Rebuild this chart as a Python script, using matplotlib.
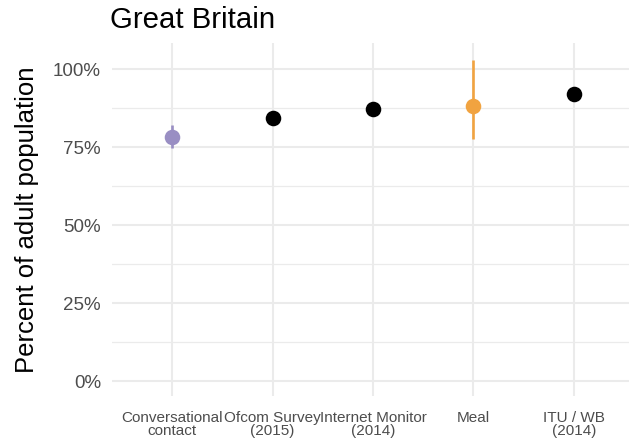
import matplotlib
matplotlib.use("Agg")
import matplotlib.pyplot as plt
from matplotlib.ticker import FixedLocator

categories = ["Conversational\ncontact", "Ofcom Survey\n(2015)", "Internet Monitor\n(2014)", "Meal", "ITU / WB\n(2014)"]
values = [78.2, 84.5, 87.1, 88.1, 92.2]
lower = [74.8, None, None, 77.6, None]
upper = [82.0, None, None, 102.9, None]
colors = ["#998ec3", "#000000", "#000000", "#f1a340", "#000000"]
yticks = [0, 25, 50, 75, 100]
ytick_labels = ["0%", "25%", "50%", "75%", "100%"]
yminor = [12.5, 37.5, 62.5, 87.5]

plt.rcParams['font.family'] = ['Liberation Sans', 'DejaVu Sans']

W, H = 629, 444
fig = plt.figure(figsize=(W / 100, H / 100), dpi=100)
ax = fig.add_axes([112 / W, (H - 396) / H, (629 - 112) / W, (396 - 43) / H])

x = list(range(1, len(categories) + 1))
for xi, v, lo, hi, c in zip(x, values, lower, upper, colors):
    if lo is not None:
        ax.plot([xi, xi], [lo, hi], color=c, lw=1.9, solid_capstyle='butt', zorder=3)
    ax.plot([xi], [v], 'o', color=c, markersize=11.2, markeredgewidth=0, zorder=4)

ax.set_xlim(0.4, 5.55)
ax.set_ylim(-4.7, 108.4)
ax.set_xticks(x)
ax.set_xticklabels(categories, fontsize=11, color="#4D4D4D", linespacing=0.92)
ax.set_yticks(yticks)
ax.set_yticklabels(ytick_labels, fontsize=13.5, color="#4D4D4D")
ax.yaxis.set_minor_locator(FixedLocator(yminor))
ax.tick_params(axis='both', which='both', length=0)
ax.tick_params(axis='x', pad=11)
ax.tick_params(axis='y', pad=8)

ax.grid(True, which='major', color="#EBEBEB", lw=1.5)
ax.grid(True, which='minor', axis='y', color="#EBEBEB", lw=0.9)
ax.set_axisbelow(True)
for s in ax.spines.values():
    s.set_visible(False)

ax.set_ylabel("Percent of adult population", fontsize=18.5, labelpad=10)
fig.text(110 / W, 1 - 20 / H, "Great Britain", fontsize=21.2, ha='left', va='center')

fig.savefig("out.png", dpi=100)
